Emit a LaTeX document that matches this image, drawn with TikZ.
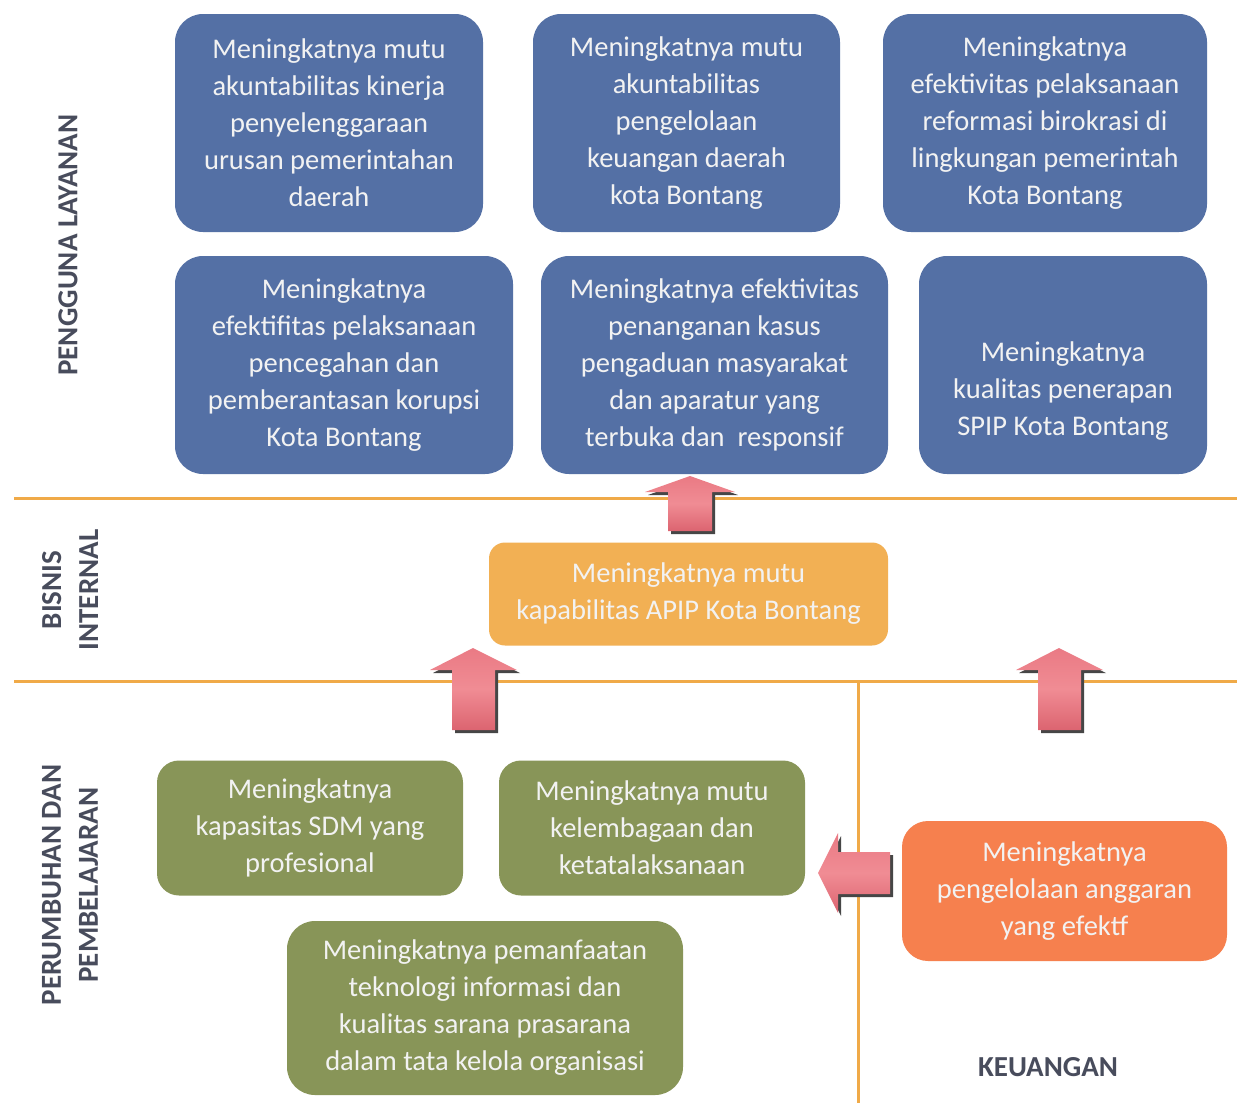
\documentclass[tikz,border=0pt]{standalone}
\usepackage{fontspec}
\setmainfont{Carlito}
\definecolor{cblue}{RGB}{84,112,165}
\definecolor{cgreen}{RGB}{136,149,88}
\definecolor{corange}{RGB}{242,176,84}
\definecolor{cred}{RGB}{246,128,78}
\definecolor{cline}{RGB}{240,170,72}
\definecolor{clabel}{RGB}{72,76,92}
\definecolor{ctext}{RGB}{242,242,242}
\definecolor{arrtop}{RGB}{234,122,132}
\definecolor{arrmid}{RGB}{240,140,148}
\definecolor{arrbot}{RGB}{220,100,112}
\definecolor{arrshadow}{RGB}{70,70,70}
\begin{document}
\begin{tikzpicture}[x=1pt,y=-1pt,
  box/.style={rounded corners=28pt, align=center, text=ctext, inner sep=0pt,
    font=\fontsize{28.5}{37}\selectfont},
  sect/.style={draw=cline, line width=3pt},
  lab/.style={text=clabel, font=\fontsize{29}{37}\selectfont\bfseries, align=center},
  arrfill/.style={top color=arrtop, bottom color=arrbot, middle color=arrmid},
  uparr/.pic={
    \fill[arrshadow] (3,3) -- (48,19) -- (25,19) -- (25,58) -- (-19,58) -- (-19,19) -- (-42,19) -- cycle;
    \shade[arrfill] (0,0) -- (45,16) -- (22,16) -- (22,55) -- (-22,55) -- (-22,16) -- (-45,16) -- cycle;
  },
  uparrlong/.pic={
    \fill[arrshadow] (3,3) -- (47,25) -- (25,25) -- (25,85) -- (-18,85) -- (-18,25) -- (-40,25) -- cycle;
    \shade[arrfill] (0,0) -- (44,22) -- (22,22) -- (22,82) -- (-21,82) -- (-21,22) -- (-43,22) -- cycle;
  },
  leftarr/.pic={
    \fill[arrshadow] (3,3) -- (23,-37) -- (23,-18) -- (75,-18) -- (75,24) -- (23,24) -- (23,43) -- cycle;
    \shade[arrfill] (0,0) -- (20,-40) -- (20,-21) -- (72,-21) -- (72,21) -- (20,21) -- (20,40) -- cycle;
  }
]
\useasboundingbox (0,0) rectangle (1237,1103);
\fill[white] (0,0) rectangle (1237,1103);

% section lines
\coordinate (l1a) at (14,498);  \coordinate (l1b) at (1237,498);
\coordinate (l2a) at (14,681);  \coordinate (l2b) at (1237,681);
\coordinate (v1a) at (858,681); \coordinate (v1b) at (858,1103);
\draw[sect] (l1a) -- (l1b);
\draw[sect] (l2a) -- (l2b);
\draw[sect] (v1a) -- (v1b);

% pengguna layanan
\node[box, fill=cblue, minimum width=308pt, minimum height=218pt] (b1) at (329,123)
  {Meningkatnya mutu\\akuntabilitas kinerja\\penyelenggaraan\\urusan pemerintahan\\daerah};
\node[box, fill=cblue, minimum width=307pt, minimum height=218pt] (b2) at (686.5,123)
  {Meningkatnya mutu\\akuntabilitas\\pengelolaan\\keuangan daerah\\kota Bontang};
\node[box, fill=cblue, minimum width=324pt, minimum height=218pt] (b3) at (1045,123)
  {Meningkatnya\\efektivitas pelaksanaan\\reformasi birokrasi di\\lingkungan pemerintah\\Kota Bontang};
\node[box, fill=cblue, minimum width=338pt, minimum height=218pt] (b4) at (344,365)
  {Meningkatnya\\efektifitas pelaksanaan\\pencegahan dan\\pemberantasan korupsi\\Kota Bontang};
\node[box, fill=cblue, minimum width=347pt, minimum height=218pt] (b5) at (714.5,365)
  {Meningkatnya efektivitas\\penanganan kasus\\pengaduan masyarakat\\dan aparatur yang\\terbuka dan\ \ responsif};
\node[box, fill=cblue, minimum width=288pt, minimum height=218pt] (b6) at (1063,365) {};
\node[box] (b6t) at (1063,391) {Meningkatnya\\kualitas penerapan\\SPIP Kota Bontang};

% bisnis internal
\node[box, rounded corners=16pt, fill=corange, minimum width=399pt, minimum height=103pt] (o1) at (688.5,594)
  {Meningkatnya mutu\\kapabilitas APIP Kota Bontang};

% perumbuhan
\node[box, rounded corners=22pt, fill=cgreen, minimum width=306pt, minimum height=135pt] (g1) at (310,828)
  {Meningkatnya\\kapasitas SDM yang\\profesional};
\node[box, rounded corners=22pt, fill=cgreen, minimum width=306pt, minimum height=135pt] (g2) at (652,828)
  {Meningkatnya mutu\\kelembagaan dan\\ketatalaksanaan};
\node[box, rounded corners=28pt, fill=cgreen, minimum width=396pt, minimum height=174pt] (g3) at (485,1008)
  {Meningkatnya pemanfaatan\\teknologi informasi dan\\kualitas sarana prasarana\\dalam tata kelola organisasi};

% keuangan
\node[box, rounded corners=26pt, fill=cred, minimum width=325pt, minimum height=140pt] (r1) at (1064.5,891)
  {Meningkatnya\\pengelolaan anggaran\\yang efektf};

% arrows
\pic at (690,476) {uparr};
\pic at (473,648) {uparrlong};
\pic at (1059,648) {uparrlong};
\pic at (818,873) {leftarr};

% labels
\node[lab, rotate=90] (lpl) at (68,245) {PENGGUNA LAYANAN};
\node[lab, rotate=90] (lbi) at (70,590) {BISNIS\\INTERNAL};
\node[lab, rotate=90] (lpp) at (70,885) {PERUMBUHAN DAN\\PEMBELAJARAN};
\node[lab] (lke) at (1048,1067) {KEUANGAN};
\end{tikzpicture}
\end{document}
